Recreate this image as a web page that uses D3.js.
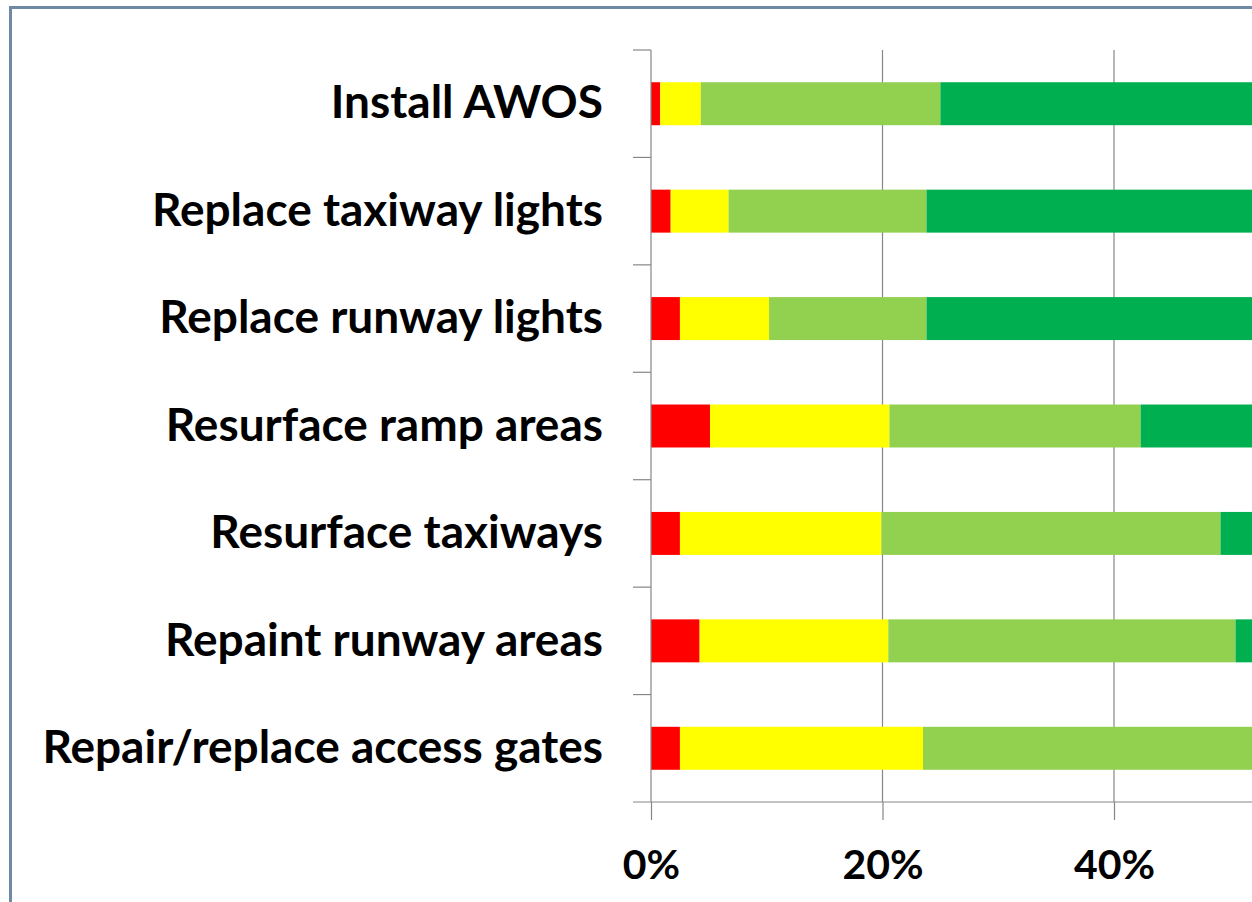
<!DOCTYPE html>
<html>
<head>
<meta charset="utf-8">
<script src="https://cdn.jsdelivr.net/npm/d3@7"></script>
<style>
  html, body { margin: 0; padding: 0; background: #ffffff; overflow: hidden; }
  svg { display: block; }
</style>
</head>
<body>
<svg id="chart" width="1252" height="902"></svg>
<script>
// ---- data (percent shares, 100% stacked) ----
const categories = [
  "Install AWOS",
  "Replace taxiway lights",
  "Replace runway lights",
  "Resurface ramp areas",
  "Resurface taxiways",
  "Repaint runway areas",
  "Repair/replace access gates"
];
const seriesNames = ["Red", "Yellow", "Light green", "Dark green"];
const redValues       = [0.8, 1.7, 2.5, 5.1, 2.5, 4.2, 2.5];
const yellowValues    = [3.5, 5.0, 7.7, 15.5, 17.4, 16.3, 21.0];
const lightGreenValues= [20.7, 17.1, 13.6, 21.7, 29.3, 30.0, 38.5];
const darkGreenValues = [75.0, 76.2, 76.2, 57.7, 50.8, 49.5, 38.0];
const seriesColors = ["#FF0000", "#FFFF00", "#92D050", "#00B050"];
const xTickValues = [0, 20, 40];   // the ticks visible in the picture

// ---- layout ----
const svg = d3.select("#chart");
const plotLeft = 651, plotTop = 50, plotBottom = 802;
const fullWidth = 1157.5;   // 0% -> 100%

// frame
svg.append("rect")
  .attr("x", 10.5).attr("y", 7.5)
  .attr("width", 1400).attr("height", 1000)
  .attr("fill", "#ffffff")
  .attr("stroke", "#6f8aa5").attr("stroke-width", 3);

const x = d3.scaleLinear().domain([0, 100]).range([plotLeft, plotLeft + fullWidth]);
const y = d3.scaleBand().domain(categories).range([plotTop, plotBottom]).paddingInner(0.6).paddingOuter(0.3);
const yIdx = d3.scaleLinear().domain([0, categories.length]).range([plotTop, plotBottom]);

// table for stack
const table = categories.map((c, i) => ({
  cat: c,
  "Red": redValues[i],
  "Yellow": yellowValues[i],
  "Light green": lightGreenValues[i],
  "Dark green": darkGreenValues[i]
}));
const stacked = d3.stack().keys(seriesNames)(table);

// gridlines
svg.append("g")
  .selectAll("line")
  .data(xTickValues.filter(d => d > 0))
  .join("line")
  .attr("x1", d => x(d)).attr("x2", d => x(d))
  .attr("y1", plotTop).attr("y2", plotBottom)
  .attr("stroke", "#868686").attr("stroke-width", 1.2);

// bars
svg.append("g")
  .selectAll("g")
  .data(stacked)
  .join("g")
  .attr("fill", (d, i) => seriesColors[i])
  .selectAll("rect")
  .data(d => d)
  .join("rect")
  .attr("x", d => x(d[0]))
  .attr("y", d => y(d.data.cat))
  .attr("width", d => x(d[1]) - x(d[0]))
  .attr("height", y.bandwidth());

// x axis
const xAxis = svg.append("g")
  .attr("transform", `translate(0,${plotBottom})`)
  .call(d3.axisBottom(x).tickValues(xTickValues).tickFormat(d => d + "%").tickSize(18).tickPadding(30));
xAxis.select(".domain").remove();
xAxis.selectAll(".tick line").attr("stroke", "#868686").attr("stroke-width", 1.2);
xAxis.selectAll("text")
  .attr("font-family", "Lato, 'Open Sans', sans-serif")
  .attr("font-weight", 700)
  .attr("font-size", 41)
  .attr("fill", "#000");
svg.append("line")
  .attr("x1", plotLeft - 18).attr("x2", plotLeft + fullWidth)
  .attr("y1", plotBottom).attr("y2", plotBottom)
  .attr("stroke", "#868686").attr("stroke-width", 1.2);

// y axis line and boundary ticks
svg.append("line")
  .attr("x1", plotLeft).attr("x2", plotLeft)
  .attr("y1", plotTop).attr("y2", plotBottom)
  .attr("stroke", "#868686").attr("stroke-width", 1.2);
svg.append("g")
  .selectAll("line")
  .data(d3.range(categories.length))
  .join("line")
  .attr("x1", plotLeft - 18).attr("x2", plotLeft)
  .attr("y1", d => yIdx(d)).attr("y2", d => yIdx(d))
  .attr("stroke", "#868686").attr("stroke-width", 1.2);

// category labels
const yAxis = svg.append("g")
  .attr("transform", `translate(${plotLeft},0)`)
  .call(d3.axisLeft(y).tickSize(0).tickPadding(48));
yAxis.select(".domain").remove();
yAxis.selectAll("text")
  .attr("font-family", "Lato, 'Open Sans', sans-serif")
  .attr("font-weight", 700)
  .attr("font-size", 46)
  .attr("fill", "#000");
</script>
</body>
</html>
